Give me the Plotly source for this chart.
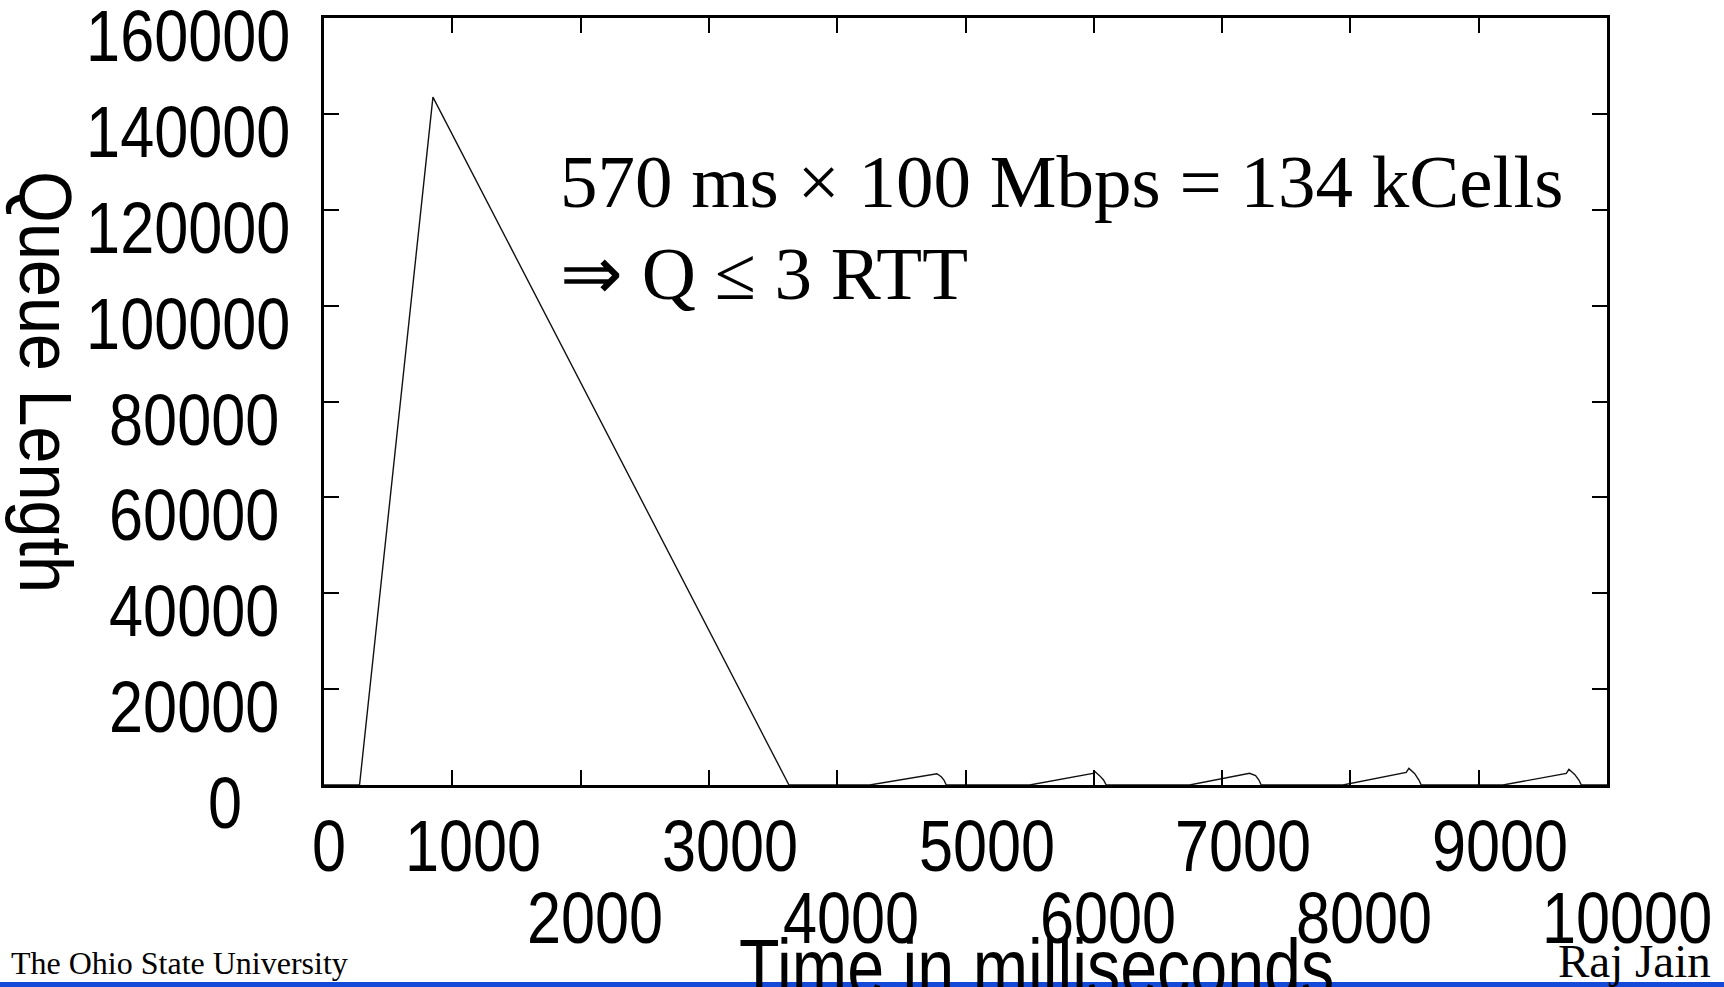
import plotly.graph_objects as go

# ---------------- data ----------------
time_ms = [0, 277, 849, 3624,
           4253, 4777, 4811, 4832, 4850,
           5500, 5993, 6006, 6045, 6076, 6097,
           6746, 7214, 7261, 7287, 7305,
           7942, 8435, 8456, 8500, 8534, 8552,
           9189, 9683, 9703, 9748, 9781, 9800, 10000]
queue_len = [0, 0, 143500, 0,
             0, 2360, 1730, 1040, 0,
             0, 2430, 2850, 1950, 1040, 0,
             0, 2430, 1950, 1040, 0,
             0, 2640, 3470, 2430, 1040, 0,
             0, 2430, 3270, 2200, 1040, 0, 0]

x_ticks = [0, 1000, 2000, 3000, 4000, 5000, 6000, 7000, 8000, 9000, 10000]
x_tick_labels = ["0", "1000", "2000", "3000", "4000", "5000", "6000", "7000", "8000", "9000", "10000"]
y_ticks = [0, 20000, 40000, 60000, 80000, 100000, 120000, 140000, 160000]
y_tick_labels = ["0", "20000", "40000", "60000", "80000", "100000", "120000", "140000", "160000"]

x_title = "Time in milliseconds"
y_title = "Queue Length"
note_line1 = "570 ms × 100 Mbps = 134 kCells"
note_line2 = "⇒ Q ≤ 3 RTT"
footer_left = "The Ohio State University"
footer_right = "Raj Jain"

# ---------------- layout geometry (pixels) ----------------
W, H = 1724, 987
L, R, T, B = 324.4, 1607.4, 17.6, 785.0


def px(xp):
    return (xp - L) / (R - L)


def py(yp):
    return (B - yp) / (B - T)


NARROW = "Liberation Sans Narrow, Liberation Sans, Arial, sans-serif"
SERIF = "Liberation Serif, Times New Roman, Times, serif"

fig = go.Figure()
fig.add_trace(go.Scatter(x=time_ms, y=queue_len, mode="lines",
                         line=dict(color="#111111", width=1.4),
                         showlegend=False, hoverinfo="skip"))

axis_common = dict(showgrid=False, zeroline=False, showline=True, linecolor="black",
                   linewidth=3, mirror="ticks", ticks="inside", ticklen=15,
                   tickwidth=2, tickcolor="black", showticklabels=False)

fig.update_xaxes(range=[0, 10000], tickvals=x_ticks, **axis_common)
fig.update_yaxes(range=[0, 160000], tickvals=y_ticks, **axis_common)

annotations = []
# x tick labels: staggered in two rows
for v, lab in zip(x_ticks, x_tick_labels):
    k = v // 1000
    if v == 0:
        row_y, shift = 846, 5
    elif k % 2 == 1:
        row_y, shift = 846, 21
    elif v == 10000:
        row_y, shift = 918, 20
    else:
        row_y, shift = 918, 14
    annotations.append(dict(x=v, y=py(row_y), xref="x", yref="paper", text=lab,
                            showarrow=False, xanchor="center", yanchor="middle", align="center",
                            xshift=shift, font=dict(family=NARROW, size=72, color="black")))

# y tick labels
for v, lab in zip(y_ticks, y_tick_labels):
    if v == 0:
        xs, anchor = 225, "center"
    elif len(lab) == 6:
        xs, anchor = 292, "right"
    else:
        xs, anchor = 281, "right"
    annotations.append(dict(x=px(xs), y=v, xref="paper", yref="y", text=lab,
                            showarrow=False, xanchor=anchor, yanchor="middle", align=anchor,
                            yshift=-18, font=dict(family=NARROW, size=72, color="black")))

# axis titles
annotations.append(dict(x=px(46), y=py(382), xref="paper", yref="paper", text=y_title,
                        textangle=90, showarrow=False, xanchor="center", yanchor="middle",
                        font=dict(family=NARROW, size=74, color="black")))
annotations.append(dict(x=px(1037), y=py(968), xref="paper", yref="paper", text=x_title,
                        showarrow=False, xanchor="center", yanchor="middle",
                        font=dict(family=NARROW, size=80, color="black")))

# in-plot note
annotations.append(dict(x=px(558), y=py(181), xref="paper", yref="paper", text=note_line1,
                        showarrow=False, xanchor="left", yanchor="middle", align="left",
                        font=dict(family=SERIF, size=75, color="black")))
annotations.append(dict(x=px(558), y=py(273), xref="paper", yref="paper", text=note_line2,
                        showarrow=False, xanchor="left", yanchor="middle", align="left",
                        font=dict(family=SERIF, size=75, color="black")))

# footers
annotations.append(dict(x=px(9), y=py(963), xref="paper", yref="paper", text=footer_left,
                        showarrow=False, xanchor="left", yanchor="middle", align="left",
                        font=dict(family=SERIF, size=32, color="black")))
annotations.append(dict(x=px(1713), y=py(961), xref="paper", yref="paper", text=footer_right,
                        showarrow=False, xanchor="right", yanchor="middle", align="right",
                        font=dict(family=SERIF, size=47, color="black")))

shapes = [dict(type="rect", xref="paper", yref="paper", x0=px(-10), x1=px(W + 10),
               y0=py(982), y1=py(H + 10), fillcolor="#1549d8", line=dict(width=0),
               layer="below")]

fig.update_layout(width=W, height=H, autosize=False,
                  margin=dict(l=L, r=W - R, t=T, b=H - B, pad=0),
                  paper_bgcolor="white", plot_bgcolor="white",
                  annotations=annotations, shapes=shapes, showlegend=False)

# condense the sans-serif labels horizontally (the original uses a narrow Helvetica)
post = """
(function(){
  var gd = document.getElementById('{plot_id}');
  document.body.style.margin = '0';
  document.body.style.overflow = 'hidden';
  function squeeze(){
    var texts = gd.querySelectorAll('.annotation-text');
    texts.forEach(function(t){
      var ff = t.style.fontFamily || '';
      if (ff.indexOf('Narrow') < 0) return;
      var s = 0.85;
      if (t.textContent === 'Queue Length') s = 0.9;
      if (t.textContent === 'Time in milliseconds') s = 0.83;
      var a = t.getAttribute('text-anchor');
      var o = a === 'start' ? 'left center' : (a === 'end' ? 'right center' : 'center');
      t.style.transformBox = 'fill-box';
      t.style.transformOrigin = o;
      t.style.transform = 'scaleX(' + s + ')';
    });
  }
  squeeze();
  if (gd.on) gd.on('plotly_afterplot', squeeze);
  setTimeout(squeeze, 30);
})();
"""

fig.write_html("out.html", config={"displayModeBar": False}, post_script=post)
